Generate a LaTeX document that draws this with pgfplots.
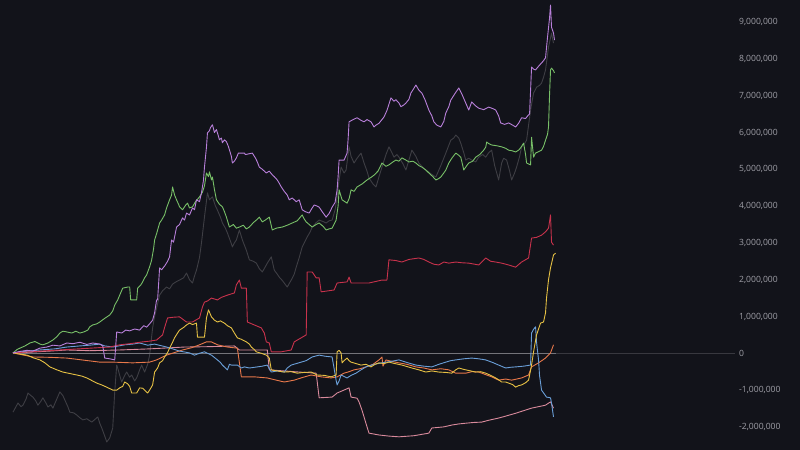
\documentclass[border=0pt]{standalone}
\usepackage{fontspec}
\setmainfont{Open Sans}
\usepackage{pgfplots}
\pgfplotsset{compat=1.18}
\definecolor{bg}{HTML}{12131A}
\definecolor{tickc}{HTML}{A0A0A8}
\definecolor{gridc}{HTML}{38383F}
\definecolor{zeroc}{HTML}{74747A}
\definecolor{cpurple}{HTML}{B880DA}
\definecolor{cgreen}{HTML}{78C068}
\definecolor{cgrey}{HTML}{3E3E44}
\definecolor{cred}{HTML}{C8324C}
\definecolor{cyellow}{HTML}{E6C144}
\definecolor{cblue}{HTML}{6A9FD8}
\definecolor{corange}{HTML}{E8784A}
\definecolor{cpink}{HTML}{D98A9C}
\begin{document}
\begin{tikzpicture}
\fill[bg] (0,0) rectangle (800bp,450bp);
\useasboundingbox (0,0) rectangle (800bp,450bp);
\begin{axis}[
  at={(13bp,0bp)}, anchor=south west,
  width=722bp, height=450bp, scale only axis,
  xmin=13, xmax=737, ymin=-2.628, ymax=9.60,
  clip=false,
  axis line style={draw=none},
  xtick=\empty,
  ytick={-2,-1,0,1,2,3,4,5,6,7,8,9},
  yticklabels={{-2,000,000},{-1,000,000},0,{1,000,000},{2,000,000},{3,000,000},{4,000,000},{5,000,000},{6,000,000},{7,000,000},{8,000,000},{9,000,000}},
  yticklabel pos=right,
  major tick length=0pt,
  yticklabel style={font=\fontsize{8.6}{10}\selectfont, text=tickc, anchor=west, inner sep=0pt, xshift=4bp},
  every axis plot/.append style={line width=0.9bp, line join=round},
]
% zero reference line
\addplot[gridc, line width=1.5bp] coordinates {(13,0) (737,0)};
% grey
\addplot[cgrey] coordinates {
(13,-1.60) (15,-1.50) (18,-1.35) (21,-1.45) (23,-1.41) (26,-1.25) (28,-1.08) (31,-1.15) (33,-1.19) (36,-1.30) (38,-1.41) (41,-1.30) (43,-1.21) (46,-1.35) (48,-1.46) (51,-1.40) (53,-1.49) (56,-1.30) (60,-1.05) (63,-1.15) (65,-1.27) (68,-1.45) (70,-1.60) (74,-1.62) (77,-1.68) (80,-1.75) (83,-1.81) (87,-1.78) (92,-1.87) (95,-1.80) (98,-1.73) (100,-1.90) (102,-2.03) (105,-2.25) (107,-2.41) (110,-2.30) (113,-2.03) (115,-1.05) (117,-0.32) (118,-0.40) (120,-0.60) (122,-0.78) (125,-0.60) (127,-0.51) (130,-0.65) (132,-0.59) (135,-0.75) (137,-0.67) (140,-0.45) (142,-0.32) (145,-0.51) (148,-0.30) (150,-0.05) (153,0.69) (155,1.00) (157,1.23) (160,1.58) (163,1.70) (167,1.80) (170,1.75) (173,1.88) (177,1.95) (180,1.99) (184,2.05) (187,2.18) (190,2.00) (193,1.91) (195,2.10) (197,2.26) (200,2.60) (202,3.00) (205,3.70) (208,4.36) (210,4.17) (213,4.25) (216,4.00) (218,3.89) (221,3.70) (223,3.54) (226,3.40) (228,3.27) (231,3.05) (233,2.89) (235,3.00) (237,3.08) (240,3.35) (243,3.08) (247,2.80) (250,2.54) (254,2.50) (257,2.45) (260,2.30) (263,2.21) (266,2.35) (268,2.45) (272,2.62) (275,2.26) (278,2.15) (280,2.07) (283,1.98) (285,1.91) (288,1.80) (292,1.99) (295,2.15) (297,2.34) (300,2.60) (303,2.89) (306,3.05) (308,3.16) (311,3.30) (313,3.43) (317,3.55) (320,3.62) (324,3.58) (327,3.54) (330,3.60) (333,3.62) (336,3.90) (338,4.25) (340,4.70) (342,5.06) (345,4.90) (347,4.98) (350,5.61) (352,5.35) (355,5.17) (358,5.30) (362,5.44) (365,5.17) (368,4.95) (370,4.76) (374,4.60) (377,4.52) (380,4.80) (383,5.06) (387,5.40) (390,5.61) (393,5.45) (395,5.33) (398,5.40) (400,5.33) (404,5.15) (407,4.98) (410,5.25) (413,5.52) (417,5.35) (420,5.17) (424,5.05) (427,4.98) (432,4.88) (437,4.79) (442,5.10) (447,5.44) (450,5.65) (452,5.79) (455,5.85) (457,5.93) (460,5.85) (462,5.71) (465,5.45) (467,5.25) (470,5.30) (473,5.25) (477,5.20) (480,5.33) (484,5.40) (487,5.33) (490,5.45) (493,5.52) (496,5.10) (500,4.71) (503,5.17) (505,5.30) (508,5.25) (511,4.95) (513,4.71) (516,4.90) (518,5.06) (521,5.35) (523,5.61) (526,5.70) (528,5.79) (530,6.20) (532,6.61) (535,7.07) (538,7.23) (541,7.28) (543,7.34) (545,7.50) (547,7.70) (550,8.32) (553,8.70) (555,8.43)
};
% light zero line over data range
\addplot[zeroc, line width=0.9bp] coordinates {(13,0) (557,0)};
% pink
\addplot[cpink] coordinates {
(13,0.01) (30,0.03) (50,0.06) (67,0.09) (90,0.07) (120,0.09) (150,0.12) (185,0.17) (210,0.18) (235,0.20) (240,0.09) (268,0.09) (270,-0.45) (285,-0.48) (300,-0.51) (317,-0.54) (320,-1.21) (333,-1.19) (338,-1.08) (350,-0.94) (352,-1.19) (358,-1.22) (360,-1.32) (363,-1.55) (365,-1.73) (368,-2.00) (370,-2.17) (380,-2.22) (390,-2.25) (400,-2.27) (415,-2.24) (430,-2.17) (433,-2.03) (445,-2.00) (453,-1.95) (460,-1.92) (467,-1.90) (475,-1.88) (483,-1.87) (490,-1.82) (500,-1.76) (508,-1.70) (517,-1.63) (525,-1.56) (533,-1.49) (540,-1.45) (547,-1.41) (552,-1.32) (555,-1.49)
};
% orange
\addplot[corange] coordinates {
(13,0.01) (33,-0.10) (50,-0.11) (67,-0.13) (85,-0.19) (100,-0.24) (113,-0.24) (133,-0.26) (150,-0.24) (157,-0.18) (167,-0.05) (175,0.02) (183,0.09) (192,0.15) (200,0.23) (207,0.31) (212,0.31) (218,0.23) (228,0.17) (238,0.14) (242,-0.64) (255,-0.64) (268,-0.67) (277,-0.73) (285,-0.78) (295,-0.73) (303,-0.66) (312,-0.59) (322,-0.64) (332,-0.67) (338,-0.64) (345,-0.54) (350,-0.50) (355,-0.45) (361,-0.42) (367,-0.37) (374,-0.30) (380,-0.18) (383,-0.10) (384,-0.35) (387,-0.18) (393,-0.22) (400,-0.26) (408,-0.30) (417,-0.37) (425,-0.40) (433,-0.45) (442,-0.42) (450,-0.45) (457,-0.54) (467,-0.54) (473,-0.50) (480,-0.51) (487,-0.58) (493,-0.64) (500,-0.73) (507,-0.70) (513,-0.73) (518,-0.70) (523,-0.67) (530,-0.59) (533,-0.37) (540,-0.26) (547,-0.13) (552,0.01) (555,0.23)
};
% blue
\addplot[cblue] coordinates {
(13,0.01) (25,0.05) (40,0.09) (55,0.12) (67,0.17) (80,0.20) (90,0.22) (100,0.25) (105,0.20) (113,0.17) (125,0.23) (133,0.25) (140,0.28) (148,0.22) (155,0.25) (167,0.17) (173,0.12) (180,0.06) (190,0.01) (195,-0.05) (200,0.00) (205,0.04) (212,-0.05) (218,-0.18) (221,-0.25) (223,-0.32) (226,-0.40) (228,-0.45) (230,-0.30) (232,-0.32) (238,-0.32) (242,-0.40) (245,-0.37) (250,-0.40) (258,-0.37) (263,-0.35) (268,-0.32) (272,-0.51) (278,-0.48) (285,-0.51) (288,-0.40) (292,-0.32) (297,-0.28) (302,-0.24) (307,-0.20) (313,-0.10) (320,-0.05) (326,-0.08) (333,-0.10) (337,-0.73) (338,-0.86) (340,-0.75) (342,-0.59) (345,-0.63) (348,-0.67) (352,-0.60) (357,-0.54) (362,-0.45) (367,-0.37) (375,-0.30) (383,-0.26) (392,-0.22) (400,-0.18) (408,-0.25) (417,-0.32) (425,-0.35) (433,-0.37) (440,-0.30) (447,-0.24) (452,-0.20) (457,-0.18) (465,-0.15) (473,-0.13) (480,-0.15) (487,-0.18) (494,-0.25) (500,-0.32) (507,-0.40) (512,-0.38) (517,-0.37) (525,-0.35) (532,-0.32) (533,0.55) (535,0.65) (537,0.72) (538,0.30) (540,-0.18) (541,-0.60) (543,-1.00) (548,-1.19) (552,-1.21) (553,-1.35) (555,-1.73)
};
% yellow
\addplot[cyellow] coordinates {
(13,0.01) (20,-0.02) (27,-0.05) (33,-0.12) (40,-0.18) (45,-0.26) (50,-0.37) (57,-0.45) (63,-0.51) (70,-0.55) (77,-0.59) (82,-0.62) (87,-0.67) (92,-0.74) (97,-0.81) (102,-0.86) (107,-0.92) (110,-0.96) (113,-1.00) (117,-1.00) (120,-0.94) (123,-0.90) (125,-0.78) (128,-0.83) (130,-0.90) (132,-1.08) (137,-1.08) (140,-0.94) (143,-0.95) (145,-1.00) (148,-1.08) (150,-1.00) (153,-0.86) (155,-0.51) (158,-0.40) (160,-0.26) (163,-0.20) (165,-0.10) (168,0.02) (170,0.14) (173,0.30) (175,0.42) (178,0.55) (180,0.63) (184,0.70) (187,0.77) (190,0.82) (193,0.78) (197,0.82) (198,0.44) (205,0.44) (207,0.96) (209,1.18) (212,0.99) (215,0.90) (218,0.85) (221,0.88) (225,0.82) (228,0.75) (232,0.69) (235,0.55) (238,0.42) (242,0.38) (247,0.31) (250,0.25) (252,0.17) (255,0.10) (257,0.04) (262,0.00) (267,-0.05) (270,-0.13) (272,-0.45) (278,-0.48) (285,-0.51) (292,-0.50) (298,-0.54) (305,-0.52) (312,-0.51) (318,-0.59) (325,-0.60) (332,-0.64) (337,-0.59) (338,0.04) (340,0.08) (342,0.01) (343,-0.26) (345,-0.20) (348,-0.13) (350,-0.20) (352,-0.24) (357,-0.28) (362,-0.32) (367,-0.30) (372,-0.37) (376,-0.30) (380,-0.26) (385,-0.28) (390,-0.24) (396,-0.28) (403,-0.32) (408,-0.36) (413,-0.40) (420,-0.45) (427,-0.51) (433,-0.48) (440,-0.51) (447,-0.52) (453,-0.54) (457,-0.45) (460,-0.40) (464,-0.43) (467,-0.45) (472,-0.48) (477,-0.51) (482,-0.50) (487,-0.54) (492,-0.60) (497,-0.67) (500,-0.72) (503,-0.78) (507,-0.78) (510,-0.81) (514,-0.85) (517,-0.92) (520,-0.88) (523,-0.86) (527,-0.80) (530,-0.73) (533,-0.32) (535,0.04) (538,0.50) (542,0.82) (545,0.85) (547,1.10) (548,1.50) (550,2.00) (552,2.32) (555,2.67) (557,2.72)
};
% red
\addplot[cred] coordinates {
(13,0.01) (35,0.05) (60,0.09) (85,0.13) (110,0.17) (120,0.23) (130,0.26) (143,0.31) (150,0.33) (157,0.36) (163,0.50) (165,0.70) (168,0.96) (174,0.98) (180,0.99) (187,0.85) (193,0.85) (200,0.96) (203,1.26) (205,1.39) (208,1.42) (212,1.50) (218,1.45) (222,1.52) (228,1.58) (235,1.64) (237,1.86) (240,1.99) (242,1.77) (247,1.77) (248,0.85) (255,0.77) (262,0.69) (265,0.55) (267,0.31) (270,0.28) (272,0.04) (282,0.04) (292,0.09) (295,0.31) (302,0.42) (307,0.50) (308,2.21) (313,2.21) (317,2.05) (320,2.05) (322,1.67) (335,1.72) (338,1.91) (348,1.94) (350,2.07) (352,1.91) (360,1.91) (370,1.91) (383,1.99) (388,1.99) (390,2.54) (397,2.52) (403,2.48) (410,2.55) (420,2.59) (425,2.55) (430,2.48) (435,2.42) (440,2.40) (445,2.48) (450,2.45) (457,2.48) (463,2.46) (470,2.45) (476,2.42) (480,2.40) (487,2.59) (492,2.50) (497,2.48) (503,2.45) (510,2.40) (517,2.34) (523,2.48) (530,2.59) (533,3.13) (538,3.15) (543,3.21) (547,3.30) (550,3.40) (552,3.76) (553,3.02) (555,2.94)
};
% green
\addplot[cgreen] coordinates {
(13,0.01) (17,0.10) (20,0.14) (25,0.20) (30,0.28) (35,0.32) (40,0.25) (43,0.23) (48,0.28) (53,0.36) (57,0.45) (60,0.55) (63,0.60) (67,0.58) (72,0.55) (76,0.60) (80,0.55) (84,0.58) (88,0.63) (90,0.72) (93,0.77) (97,0.80) (100,0.85) (105,0.95) (110,1.04) (113,1.15) (115,1.31) (118,1.45) (120,1.58) (123,1.77) (128,1.80) (130,1.80) (131,1.45) (137,1.45) (138,1.77) (141,1.85) (143,1.94) (145,2.05) (147,2.13) (150,2.35) (152,2.53) (154,2.85) (155,3.08) (157,3.25) (160,3.54) (162,3.62) (165,3.76) (167,3.95) (170,4.17) (172,4.30) (173,4.52) (175,4.30) (177,4.17) (179,4.05) (180,3.98) (183,3.90) (186,4.02) (188,4.08) (190,3.95) (193,3.98) (196,4.12) (200,4.25) (203,4.38) (205,4.55) (207,4.90) (209,4.80) (210,4.93) (212,4.71) (213,4.79) (215,4.45) (217,4.17) (220,4.05) (223,3.98) (225,3.85) (227,3.70) (230,3.43) (234,3.50) (237,3.40) (240,3.43) (244,3.48) (247,3.38) (250,3.43) (254,3.55) (257,3.62) (260,3.70) (263,3.57) (266,3.62) (270,3.70) (273,3.35) (277,3.40) (283,3.43) (288,3.48) (293,3.54) (298,3.60) (303,3.76) (305,3.65) (307,3.57) (310,3.50) (313,3.43) (317,3.50) (320,3.54) (324,3.45) (327,3.35) (330,3.38) (333,3.40) (337,3.62) (339,4.00) (340,4.44) (343,4.17) (348,4.08) (350,4.20) (352,4.44) (355,4.40) (358,4.52) (363,4.60) (368,4.71) (372,4.78) (375,4.84) (379,4.95) (383,5.17) (387,5.08) (390,5.12) (394,5.20) (397,5.25) (400,5.22) (403,5.31) (407,5.25) (410,5.20) (414,5.22) (417,5.17) (420,5.10) (423,5.06) (427,4.98) (430,4.90) (434,4.80) (437,4.71) (440,4.75) (442,4.79) (445,4.90) (447,4.98) (450,5.17) (453,5.30) (457,5.44) (460,5.38) (462,5.33) (464,5.10) (465,4.98) (468,5.10) (470,5.17) (474,5.22) (477,5.33) (481,5.40) (485,5.52) (487,5.60) (488,5.74) (490,5.70) (493,5.66) (498,5.64) (503,5.61) (507,5.57) (510,5.52) (514,5.50) (517,5.47) (520,5.52) (522,5.58) (525,5.71) (527,5.40) (528,5.17) (532,5.12) (533,5.87) (535,5.33) (537,5.44) (540,5.48) (543,5.52) (545,5.62) (547,5.79) (549,5.95) (550,6.15) (551,7.00) (552,7.70) (553,7.75) (555,7.68) (556,7.62)
};
% purple
\addplot[cpurple] coordinates {
(13,0.01) (20,0.05) (27,0.08) (33,0.06) (40,0.14) (47,0.17) (53,0.22) (60,0.20) (67,0.28) (73,0.26) (80,0.30) (87,0.24) (93,0.28) (100,0.25) (103,0.20) (105,-0.13) (110,-0.15) (115,-0.18) (117,0.58) (122,0.55) (126,0.63) (130,0.61) (135,0.66) (140,0.63) (144,0.75) (147,0.71) (150,0.80) (153,0.90) (155,1.10) (157,1.45) (158,1.45) (160,2.32) (162,2.27) (165,2.37) (168,2.50) (170,2.62) (172,3.08) (174,3.02) (177,3.43) (180,3.50) (183,3.68) (185,3.62) (187,3.81) (190,3.76) (193,3.95) (195,3.90) (197,4.17) (200,4.12) (202,4.36) (204,4.70) (205,5.06) (207,5.60) (208,5.99) (210,6.05) (211,6.13) (213,6.21) (215,6.00) (217,6.08) (219,5.90) (220,5.80) (222,5.85) (223,5.72) (225,5.80) (227,5.75) (229,5.62) (230,5.53) (232,5.35) (233,5.17) (235,5.22) (237,5.31) (239,5.44) (245,5.44) (246,5.40) (253,5.44) (256,5.31) (258,5.20) (260,5.06) (263,5.00) (267,4.90) (270,4.95) (273,4.85) (275,4.80) (278,4.71) (280,4.62) (282,4.52) (285,4.40) (288,4.30) (290,4.17) (293,4.22) (297,4.12) (300,4.17) (303,3.90) (306,3.85) (310,3.81) (313,3.95) (315,4.03) (318,4.00) (320,3.97) (323,3.85) (327,3.70) (330,3.80) (333,3.97) (336,4.10) (338,4.44) (339,4.80) (340,5.25) (345,5.25) (348,5.44) (349,5.80) (350,6.29) (354,6.35) (358,6.40) (362,6.33) (365,6.29) (368,6.35) (372,6.29) (375,6.15) (377,6.20) (380,6.25) (385,6.42) (388,6.60) (392,6.94) (395,6.85) (397,6.89) (400,6.80) (402,6.70) (405,6.75) (407,6.80) (410,6.90) (412,7.07) (415,7.20) (417,7.29) (420,7.15) (423,7.07) (426,6.90) (430,6.61) (433,6.45) (435,6.29) (438,6.20) (442,6.15) (445,6.30) (447,6.53) (450,6.70) (452,6.88) (456,7.05) (460,7.21) (463,7.05) (467,6.80) (470,6.61) (473,6.83) (477,6.72) (480,6.66) (485,6.62) (490,6.69) (494,6.65) (497,6.61) (500,6.45) (502,6.26) (506,6.22) (510,6.26) (514,6.20) (517,6.15) (520,6.25) (523,6.40) (527,6.38) (530,6.48) (531,6.50) (533,7.78) (535,7.72) (537,7.70) (540,7.80) (543,7.89) (545,7.95) (547,8.03) (549,8.59) (551,9.10) (552,9.46) (553,8.86) (555,8.70) (556,8.51)
};
\end{axis}
\end{tikzpicture}
\end{document}
